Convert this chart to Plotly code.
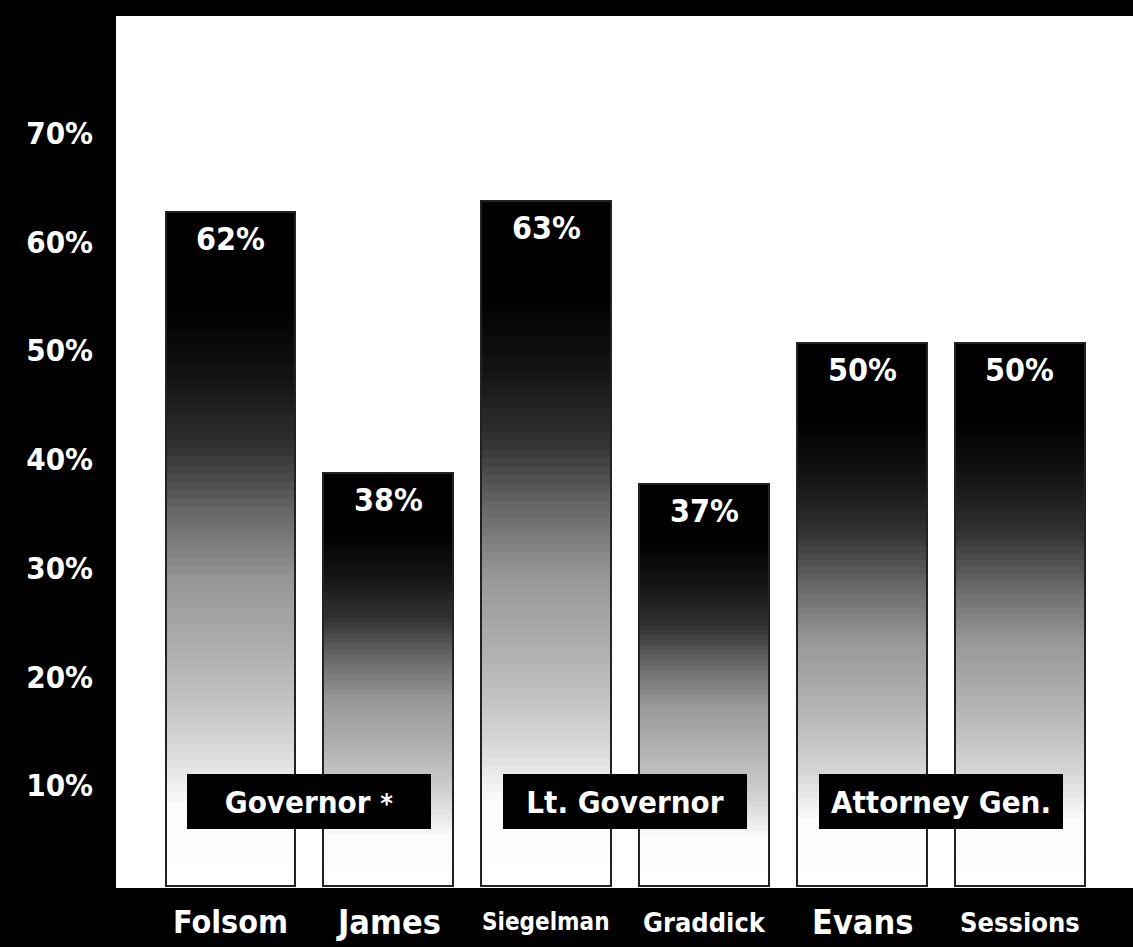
import plotly.graph_objects as go

# ---- data ----
candidates = ["Folsom", "James", "Siegelman", "Graddick", "Evans", "Sessions"]
vote_share = [62, 38, 63, 37, 50, 50]
value_labels = ["62%", "38%", "63%", "37%", "50%", "50%"]
races = ["Governor *", "Lt. Governor", "Attorney Gen."]
race_pairs = [(0, 1), (2, 3), (4, 5)]
y_ticks = [10, 20, 30, 40, 50, 60, 70]
y_tick_labels = ["10%", "20%", "30%", "40%", "50%", "60%", "70%"]

# ---- style ----
FONT = "DejaVu Sans Condensed, DejaVu Sans, sans-serif"
name_sizes = [32, 34, 24, 27, 34, 27]
BAR_W = 0.823
N = 80
# gray level (0 black .. 255 white) vs fraction of bar height from bottom
gf = [0.0, 0.12, 0.20, 0.27, 0.35, 0.45, 0.55, 0.65, 0.75, 0.86, 1.0]
gv = [255, 252, 218, 196, 174, 152, 105, 50, 20, 0, 0]


def gray(f):
    for i in range(len(gf) - 1):
        if gf[i] <= f <= gf[i + 1]:
            t = (f - gf[i]) / (gf[i + 1] - gf[i])
            g = int(round(gv[i] + t * (gv[i + 1] - gv[i])))
            return f"rgb({g},{g},{g})"
    return "rgb(0,0,0)"


fig = go.Figure()

# gradient: overlapping bars from tallest (darkest) to shortest (lightest)
for k in range(N - 1, -1, -1):
    f = (k + 0.5) / N
    fig.add_trace(go.Bar(
        x=candidates,
        y=[v * (k + 1) / N for v in vote_share],
        width=BAR_W,
        marker=dict(color=gray(f), line=dict(width=0)),
        hoverinfo="skip",
        showlegend=False,
    ))

# outline
fig.add_trace(go.Bar(
    x=candidates,
    y=vote_share,
    width=BAR_W,
    marker=dict(color="rgba(0,0,0,0)", line=dict(color="#222222", width=2)),
    showlegend=False,
))

annotations = []
# value labels inside bars
for c, v, lab in zip(candidates, vote_share, value_labels):
    annotations.append(dict(
        x=c, y=v, xref="x", yref="y", text=lab, showarrow=False,
        yanchor="middle", yshift=-27,
        font=dict(family=FONT, size=32, color="white", weight="bold"),
    ))

# candidate names under the plot
for c, s in zip(candidates, name_sizes):
    annotations.append(dict(
        x=c, y=0, xref="x", yref="paper", text=c, showarrow=False,
        yanchor="middle", yshift=-34,
        font=dict(family=FONT, size=s, color="white", weight="bold"),
    ))

# race boxes
for r, (a, b) in zip(races, race_pairs):
    txt = r.replace(" *", " <span style='font-size:27px'>*</span>")
    annotations.append(dict(
        x=(a + b) / 2, y=7.8, xref="x", yref="y", text=txt, showarrow=False,
        xanchor="center", yanchor="middle", width=244, height=55,
        bgcolor="black", borderpad=0, borderwidth=0, align="center",
        font=dict(family=FONT, size=31, color="white", weight="bold"),
    ))

fig.update_layout(
    width=1133, height=947,
    margin=dict(l=116, r=0, t=16, b=59),
    paper_bgcolor="black",
    plot_bgcolor="white",
    barmode="overlay",
    bargap=0,
    showlegend=False,
    annotations=annotations,
)
fig.update_xaxes(
    type="category",
    range=[-0.725, 5.716],
    showticklabels=False, showgrid=False, zeroline=False,
    ticks="", showline=False,
)
fig.update_yaxes(
    range=[-0.18, 80.05],
    tickvals=y_ticks, ticktext=y_tick_labels,
    showgrid=False, zeroline=False, showline=False,
    ticks="", ticklabelstandoff=22, ticklabelshift=8,
    tickfont=dict(family=FONT, size=31, color="white", weight="bold"),
)

fig.write_html(
    "out.html",
    config={"displayModeBar": False},
    post_script="document.body.style.margin='0';document.body.style.overflow='hidden';",
)
